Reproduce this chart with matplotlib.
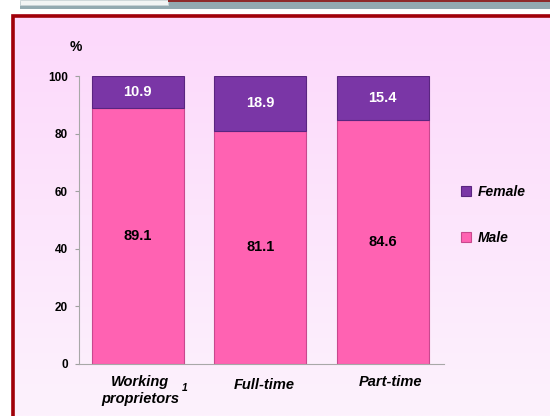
import numpy as np
import matplotlib.pyplot as plt
from matplotlib.patches import Rectangle

plt.rcParams['font.family'] = ['Liberation Sans', 'DejaVu Sans']

# data
categories = ['Working\nproprietors', 'Full-time', 'Part-time']
male = [89.1, 81.1, 84.6]
female = [10.9, 18.9, 15.4]
yticks = [0, 20, 40, 60, 80, 100]

pink = '#FF62B2'
purple = '#7A36A6'

fig = plt.figure(figsize=(5.5, 4.16), dpi=100)

# background panel with gradient
bg = fig.add_axes([0.02, 0.0, 0.98, 0.966])
grad = np.linspace(0, 1, 256).reshape(-1, 1)
top = np.array([252, 216, 251]) / 255
bot = np.array([253, 242, 253]) / 255
img = (top + (bot - top) * grad[..., None]).reshape(256, 1, 3)
bg.imshow(img, aspect='auto', extent=[0, 1, 0, 1], origin='upper')
bg.set_xlim(0, 1)
bg.set_ylim(0, 1)
bg.axis('off')

# dark red frame
fig.patches.append(Rectangle((0.0245, -0.01), 1.0, 0.972, transform=fig.transFigure,
                             fill=False, edgecolor='#A00008', linewidth=2.6))
# top strip
fig.patches.append(Rectangle((0.036, 0.978), 0.964, 0.016, transform=fig.transFigure,
                             facecolor='#93A9B0', edgecolor='none'))
fig.patches.append(Rectangle((0.036, 0.988), 0.27, 0.012, transform=fig.transFigure,
                             facecolor='#F2F4F4', edgecolor='#C9D2D5', linewidth=0.6))
fig.patches.append(Rectangle((0.306, 0.996), 0.694, 0.004, transform=fig.transFigure,
                             facecolor='#8E2A2A', edgecolor='none'))

ax = fig.add_axes([0.1436, 0.125, 0.6636, 0.692])
ax.set_facecolor('none')
x = np.arange(len(categories))
w = 0.75
b1 = ax.bar(x, male, width=w, color=pink, edgecolor='#C8488E', linewidth=0.8, label='Male')
b2 = ax.bar(x, female, width=w, bottom=male, color=purple, edgecolor='#5A2580',
            linewidth=0.8, label='Female')

for i in range(len(x)):
    ax.text(x[i], male[i] / 2, f'{male[i]:.1f}', ha='center', va='center',
            fontsize=10.5, fontweight='bold', color='black')
    ax.text(x[i], male[i] + female[i] / 2, f'{female[i]:.1f}', ha='center', va='center',
            fontsize=10.5, fontweight='bold', color='white')

ax.set_xlim(-0.48, 2.5)
ax.set_ylim(0, 100)
ax.set_yticks(yticks)
ax.set_yticklabels([str(t) for t in yticks], fontsize=8.5, fontweight='bold')
ax.tick_params(axis='y', length=3, color='#A0A0A0', pad=5)
ax.set_xticks([])
for s in ['top', 'right']:
    ax.spines[s].set_visible(False)
ax.spines['left'].set_color('#A8A8A8')
ax.spines['bottom'].set_color('#A8A8A8')

# category labels
tr = ax.get_xaxis_transform()
lab = dict(transform=tr, ha='center', va='top', fontsize=10.5, fontweight='bold', style='italic')
ax.text(x[0] + 0.02, -0.037, 'Working', **lab)
ax.text(x[0] + 0.02, -0.097, 'proprietors', **lab)
ax.text(x[0] + 0.38, -0.066, '1', transform=tr, ha='center', va='top',
        fontsize=7.5, fontweight='bold', style='italic')
ax.text(x[1] + 0.03, -0.05, categories[1], **lab)
ax.text(x[2] + 0.06, -0.037, categories[2], **lab)

fig.text(0.138, 0.888, '%', fontsize=10, fontweight='bold', ha='center', va='center')

leg = fig.legend([b2, b1], ['Female', 'Male'], loc='upper left',
                 bbox_to_anchor=(0.816, 0.585), frameon=False,
                 handlelength=0.7, handleheight=0.7, handletextpad=0.45,
                 labelspacing=2.3,
                 prop={'size': 10, 'weight': 'bold', 'style': 'italic'})

fig.savefig('out.png', dpi=100)
